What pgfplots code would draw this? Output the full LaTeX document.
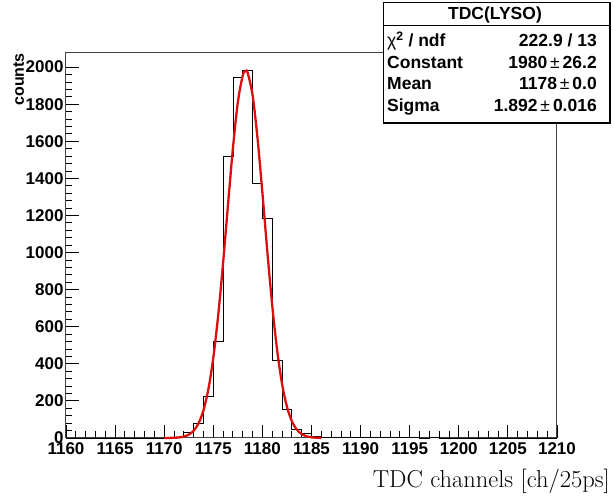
\documentclass[border=0pt]{standalone}
\usepackage{pgfplots}
\pgfplotsset{compat=1.18}
\usepackage{fontspec}
\newfontfamily\lsans{Liberation Sans}
\definecolor{fitred}{rgb}{0.86,0.06,0.06}
\begin{document}
\begin{tikzpicture}
\path[use as bounding box] (-66pt,-59pt) rectangle (548pt,438pt);
\begin{axis}[
  at={(0pt,0pt)}, anchor=south west,
  scale only axis, width=491pt, height=385.5pt,
  xmin=1160, xmax=1210, ymin=0, ymax=2079,
  xtick={1160,1165,...,1210}, minor x tick num=4,
  ytick={0,200,...,2000}, minor y tick num=4,
  tick align=inside, xtick pos=lower, ytick pos=left,
  major tick length=13pt, minor tick length=6.5pt,
  every tick/.style={black, line width=0.9pt},
  axis line style={black!75, line width=1pt},
  ticklabel style={font=\lsans\bfseries\fontsize{17}{18}\selectfont},
  /pgf/number format/assume math mode=true,
  /pgf/number format/1000 sep={},
  xticklabel style={yshift=-1pt},
  yticklabel style={xshift=1pt},
  clip=false,
]
\addplot[const plot mark left, black, line width=0.8pt] coordinates {
(1160,0) (1170,1) (1171,5) (1172,30) (1173,80) (1174,223) (1175,519)
(1176,1516) (1177,1944) (1178,1980) (1179,1373) (1180,1184) (1181,420)
(1182,155) (1183,47) (1184,25) (1185,8) (1186,4) (1187,3) (1188,2)
(1189,2) (1190,1) (1191,2) (1192,1) (1193,1) (1194,2) (1195,1)
(1196,0) (1197,1) (1198,0) (1210,0)
};
\addplot[smooth, fitred, line width=2.3pt] coordinates {
(1170,0.13) (1170.5,0.40) (1171,1.16) (1171.5,3.10) (1172,7.74)
(1172.5,18.0) (1173,39.2) (1173.5,79.3) (1174,149.6) (1174.5,263.5)
(1175,432.6) (1175.5,662.3) (1176,945.8) (1176.5,1259.3) (1177,1563.6)
(1177.5,1810.7) (1178,1955.2) (1178.3,1980) (1178.5,1969.0) (1179,1849.0)
(1179.5,1619.2) (1180,1322.4) (1180.5,1007.2) (1181,715.2) (1181.5,473.6)
(1182,292.5) (1182.5,168.5) (1183,90.5) (1183.5,45.3) (1184,21.2)
(1184.5,9.2) (1185,3.75) (1185.5,1.42) (1186,0.50)
};
\end{axis}
% y label
\node[rotate=90, anchor=base east, inner sep=0pt,
      font=\lsans\bfseries\fontsize{16}{17}\selectfont] at (-42pt,385pt) {counts};
% x label
\node[anchor=base east, inner sep=0pt,
      font=\fontsize{24.5}{26}\selectfont] at (544pt,-50pt) {TDC channels [ch/25ps]};
% stats box
\fill[white] (317pt,315pt) rectangle (544pt,436pt);
\draw[black, line width=0.9pt] (317pt,315pt) rectangle (544pt,436pt);
\draw[black, line width=1.8pt] (318pt,315pt) -- (544pt,315pt) -- (544pt,435pt);
\draw[black, line width=0.9pt] (317pt,413pt) -- (544pt,413pt);
\begin{scope}[every node/.style={inner sep=0pt, font=\lsans\bfseries\fontsize{17.5}{18}\selectfont}]
\node[anchor=base] at (429pt,418pt) {TDC(LYSO)};
\node[anchor=base west] at (321pt,391pt) {{\mdseries χ}\textsuperscript{2} / ndf};
\node[anchor=base west] at (321pt,369pt) {Constant};
\node[anchor=base west] at (321pt,348pt) {Mean};
\node[anchor=base west] at (321pt,326.5pt) {Sigma};
\node[anchor=base east] at (531pt,391pt) {222.9 / 13};
\node[anchor=base east] at (531pt,369pt) {1980\,{\mdseries ±}\,26.2};
\node[anchor=base east] at (531pt,348pt) {1178\,{\mdseries ±}\,0.0};
\node[anchor=base east] at (531pt,326.5pt) {1.892\,{\mdseries ±}\,0.016};
\end{scope}
\end{tikzpicture}
\end{document}
